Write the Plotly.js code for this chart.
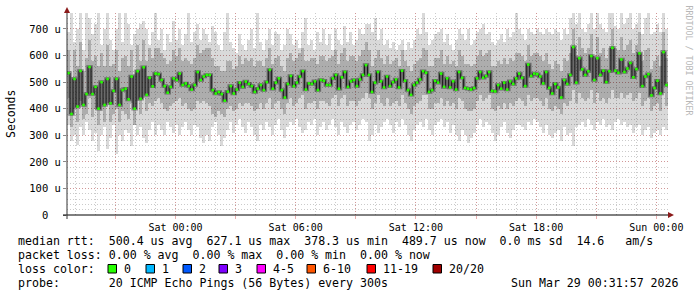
<!DOCTYPE html>
<html><head><meta charset="utf-8">
<script src="https://cdn.plot.ly/plotly-3.0.1.min.js"></script>
<style>html,body{margin:0;padding:0;background:#fff;}#chart{width:697px;height:297px;}</style>
</head><body><div id="chart"></div>
<script>
// ---- data ----
const startUTC = Date.UTC(2026, 2, 27, 18, 35, 0);   // first column start
const stepMinutes = 9;                                  // width of one column

const median = [
534,380,512,408,542,414,455,557,455,482,400,500,414,512,420,467,512,414,470,475,435,521,400,541,437,556,452,516,484,532,530,508,485,460,482,514,508,532,489,495,485,472,489,538,508,521,527,527,470,457,
463,455,430,464,485,457,472,498,482,502,493,485,463,475,489,470,500,546,475,498,514,470,442,493,523,485,498,521,541,472,495,493,503,470,508,505,489,489,514,527,475,518,538,482,503,508,485,510,527,564,
527,463,498,538,503,480,521,485,500,510,480,543,505,470,452,489,498,510,541,535,463,470,505,498,532,482,514,480,503,472,538,516,478,475,472,478,514,538,516,523,538,467,465,489,475,498,472,503,493,514,
532,516,485,566,523,532,530,521,495,538,478,457,493,480,442,508,493,527,632,498,590,548,527,541,598,508,590,527,543,500,541,629,543,535,585,538,551,572,518,549,608,485,521,530,450,478,505,457,613,489];

const smokeHigh = [
690,770,650,700,760,620,770,740,680,720,770,640,700,770,660,620,700,770,650,770,720,640,680,700,720,730,700,640,690,770,660,700,620,680,650,730,660,700,640,680,770,650,690,720,660,700,680,650,710,690,
640,620,690,760,650,630,610,680,640,620,660,700,630,770,650,620,660,700,640,690,680,620,640,700,680,640,660,630,690,740,640,660,620,690,650,700,640,680,620,700,660,640,710,650,690,640,660,700,680,720,
720,690,740,660,700,640,660,630,650,620,640,660,620,650,630,660,700,680,770,690,640,660,680,690,700,650,680,640,620,660,700,680,660,700,640,660,690,700,720,680,690,650,640,660,680,650,700,670,690,770,
700,680,660,700,690,680,700,690,680,700,690,680,700,690,660,700,680,740,770,720,760,700,690,720,770,700,760,720,700,690,770,770,710,700,760,720,740,760,700,720,770,680,740,760,680,690,720,690,770,700];

const smokeLow = [
340,280,300,265,330,300,350,320,280,310,240,300,330,250,290,340,230,300,280,320,310,260,340,300,330,290,270,320,350,300,340,320,300,350,330,310,340,300,330,350,320,300,340,330,290,270,300,280,330,350,
300,260,290,320,350,310,340,360,330,310,350,330,300,280,340,320,350,330,300,340,360,320,290,330,350,340,360,330,310,320,350,340,360,300,330,350,320,340,360,330,300,350,330,310,340,350,320,340,360,350,
280,300,340,310,330,350,360,340,310,350,330,360,340,300,280,320,340,350,330,360,320,300,340,350,360,330,350,310,340,300,280,320,300,270,290,310,340,360,330,350,340,310,280,300,330,350,310,290,320,340,
340,330,320,350,340,360,350,330,310,340,300,290,310,320,280,330,300,310,260,330,340,350,330,360,340,320,350,340,360,330,340,320,350,360,340,350,330,340,310,330,340,300,320,330,290,310,320,300,330,320];

const smokeQ1 = [
440,330,400,350,430,360,380,440,370,400,340,390,350,420,350,380,400,350,390,380,360,420,340,430,380,440,390,420,410,430,440,420,400,390,410,420,430,440,410,420,400,390,400,430,420,430,420,410,380,370,
390,380,370,400,410,390,400,420,410,420,420,410,390,400,420,400,420,440,400,420,430,400,380,420,440,410,420,440,450,400,420,420,430,400,430,430,420,410,440,450,410,440,450,410,430,430,410,430,440,460,
440,400,420,450,420,410,440,410,420,430,410,450,420,400,380,410,420,430,450,450,400,400,420,420,440,410,430,410,420,400,440,430,400,390,390,400,430,450,430,440,450,400,390,410,400,420,400,420,410,430,
440,430,410,450,430,440,440,430,410,440,400,390,410,400,380,420,410,430,470,420,460,440,430,440,470,420,460,430,440,420,440,470,440,440,460,440,450,460,430,440,460,410,430,440,390,410,420,390,460,410];

const smokeQ3 = [
620,520,620,560,650,540,590,660,580,600,560,610,560,640,560,570,620,540,590,600,560,620,530,640,580,660,580,630,590,630,630,610,590,570,580,620,600,630,580,590,580,570,590,640,610,620,630,630,590,560,
560,540,540,580,580,550,560,600,570,590,580,590,560,580,580,560,590,630,570,590,600,560,540,590,610,580,590,610,630,580,580,590,590,570,600,600,580,590,600,620,570,610,630,580,600,600,580,600,620,650,
620,560,590,620,590,570,600,570,580,590,560,620,580,560,540,570,580,590,630,620,560,560,590,590,620,570,600,570,580,560,620,600,570,570,560,570,600,620,600,610,620,560,560,580,570,590,570,590,580,610,
610,600,580,640,600,610,610,600,580,610,570,550,580,570,540,590,580,610,700,600,670,630,610,630,680,600,670,610,630,590,630,700,630,620,670,620,640,660,610,640,690,580,620,630,550,580,600,560,690,590];

const xTickVals = ['2026-03-27 21:00','2026-03-28 00:00','2026-03-28 03:00','2026-03-28 06:00','2026-03-28 09:00',
                   '2026-03-28 12:00','2026-03-28 15:00','2026-03-28 18:00','2026-03-28 21:00','2026-03-29 00:00'];
const xTickText = ['','Sat 00:00','','Sat 06:00','','Sat 12:00','','Sat 18:00','','Sun 00:00'];
const yTickVals = [0,100,200,300,400,500,600,700];
const yTickText = ['0\u00a0\u00a0','100 u','200 u','300 u','400 u','500 u','600 u','700 u'];

const lossLabels = ['0','1','2','3','4-5','6-10','11-19','20/20'];
const lossColors = ['#26ff00','#00b8ff','#0059ff','#7e00ff','#ff00ff','#ff5500','#ff0000','#a00000'];

const legendMedian = 'median rtt:  500.4 us avg  627.1 us max  378.3 us min  489.7 us now  0.0 ms sd  14.6   am/s';
const legendLoss   = 'packet loss: 0.00 % avg  0.00 % max  0.00 % min  0.00 % now';
const legendColor  = 'loss color:';
const legendProbe  = 'probe:       20 ICMP Echo Pings (56 Bytes) every 300s';
const stampText    = 'Sun Mar 29 00:31:57 2026';

// ---- helpers ----
const stepMs = stepMinutes * 60000;
const fmt = ms => new Date(ms).toISOString().replace('T',' ').slice(0,19);
const n = median.length;
const xCenter = median.map((_, i) => fmt(startUTC + (i + 0.5) * stepMs));
const xStart = median.map((_, i) => fmt(startUTC + i * stepMs));
xStart.push(fmt(startUTC + n * stepMs));
const medStep = median.concat([median[n - 1]]);
const xRange = [fmt(startUTC), fmt(startUTC + n * stepMs)];

// pixel -> paper conversion for decorations (plot area 67..668 x 13..215)
const PL = 67, PR = 668, PT = 13, PB = 215;
const px = x => (x - PL) / (PR - PL);
const py = y => (PB - y) / (PB - PT);
const nb = s => s.replace(/ /g, '\u00a0');

const MONO = 'DejaVu Sans Mono, monospace';

const traces = [
  { type: 'bar', x: xCenter, base: smokeLow, y: smokeHigh.map((h, i) => h - smokeLow[i]),
    width: stepMs, marker: { color: 'rgba(0,0,0,0.15)', line: { width: 0 } }, hoverinfo: 'skip' },
  { type: 'bar', x: xCenter, base: smokeQ1, y: smokeQ3.map((h, i) => h - smokeQ1[i]),
    width: stepMs, marker: { color: 'rgba(0,0,0,0.2)', line: { width: 0 } }, hoverinfo: 'skip' },
  { type: 'scatter', mode: 'lines', x: xStart, y: medStep,
    line: { shape: 'hv', color: 'rgba(0,0,0,0.38)', width: 3.5 }, hoverinfo: 'skip' },
  { type: 'scatter', mode: 'lines', x: xStart, y: medStep,
    line: { shape: 'hv', color: '#1a1a1a', width: 1 }, hoverinfo: 'skip' },
  { type: 'scatter', mode: 'markers', x: xCenter, y: median,
    marker: { symbol: 'square', size: 2.6, color: '#26ff00', line: { width: 0 } } }
];

const gridMajor = 'rgba(215,110,110,0.55)';
const gridMinor = 'rgba(130,130,130,0.42)';

const shapes = [
  // axes
  { type: 'line', xref: 'paper', yref: 'paper', x0: px(63), x1: px(670), y0: py(215), y1: py(215),
    line: { color: '#000', width: 1 }, layer: 'above' },
  { type: 'line', xref: 'paper', yref: 'paper', x0: px(67), x1: px(67), y0: py(219), y1: py(11),
    line: { color: '#333', width: 1 }, layer: 'above' },
  { type: 'path', xref: 'paper', yref: 'paper', layer: 'above',
    path: `M ${px(674)},${py(215)} L ${px(668)},${py(212)} L ${px(668)},${py(218)} Z`,
    fillcolor: '#8b1a1a', line: { width: 0 } },
  { type: 'path', xref: 'paper', yref: 'paper', layer: 'above',
    path: `M ${px(67)},${py(7)} L ${px(64)},${py(13)} L ${px(70)},${py(13)} Z`,
    fillcolor: '#8b1a1a', line: { width: 0 } }
];

const boxX = [108, 146, 183, 219, 257, 307, 367, 433];
const annotations = [];
lossColors.forEach((c, i) => {
  shapes.push({ type: 'rect', xref: 'paper', yref: 'paper',
    x0: px(boxX[i]), x1: px(boxX[i] + 8.5), y0: py(264.5), y1: py(273),
    fillcolor: c, line: { color: '#000', width: 1 } });
  annotations.push({ text: lossLabels[i], x: px(boxX[i] + 14), y: py(269) });
});

annotations.push({ text: nb(legendMedian), x: px(16), y: py(241) });
annotations.push({ text: nb(legendLoss), x: px(16), y: py(255) });
annotations.push({ text: nb(legendColor), x: px(16), y: py(269) });
annotations.push({ text: nb(legendProbe), x: px(16), y: py(283) });
annotations.push({ text: nb(stampText), x: px(681), y: py(283), xanchor: 'right' });

annotations.forEach(a => {
  Object.assign(a, { xref: 'paper', yref: 'paper', showarrow: false,
    xanchor: a.xanchor || 'left', yanchor: 'middle',
    font: { family: MONO, size: 11.6, color: '#000' } });
});

annotations.push({ text: 'Seconds', xref: 'paper', yref: 'paper', x: px(11), y: py(114),
  showarrow: false, textangle: -90, xanchor: 'center', yanchor: 'middle',
  font: { family: MONO, size: 11.5, color: '#000' } });
annotations.push({ text: nb('RRDTOOL / TOBI OETIKER'), xref: 'paper', yref: 'paper', x: px(688.5), y: py(60),
  showarrow: false, textangle: 90, xanchor: 'center', yanchor: 'middle',
  font: { family: MONO, size: 8.3, color: '#b8b8b8' } });

const layout = {
  width: 697, height: 297,
  margin: { l: PL, r: 697 - PR, t: PT, b: 297 - PB, pad: 0 },
  paper_bgcolor: '#ffffff', plot_bgcolor: '#ffffff',
  showlegend: false, barmode: 'overlay', bargap: 0,
  xaxis: {
    type: 'date', range: xRange, tickmode: 'array', tickvals: xTickVals, ticktext: xTickText,
    showgrid: true, gridcolor: gridMajor, griddash: '1px,2px', gridwidth: 1,
    ticks: 'outside', ticklen: 3, tickcolor: gridMajor, tickwidth: 1,
    tickfont: { family: MONO, size: 10, color: '#000' },
    showline: false, zeroline: false, fixedrange: true,
    minor: { dtick: 3600000, tick0: '2026-03-28 00:00', showgrid: true, gridcolor: gridMinor,
             griddash: '1px,2px', gridwidth: 1, ticks: '' }
  },
  yaxis: {
    range: [0, 760], tickmode: 'array', tickvals: yTickVals, ticktext: yTickText,
    showgrid: true, gridcolor: gridMajor, griddash: '1px,2px', gridwidth: 1,
    ticks: 'outside', ticklen: 3, tickcolor: '#888', tickwidth: 1,
    tickfont: { family: MONO, size: 10.5, color: '#000' },
    showline: false, zeroline: false, fixedrange: true,
    minor: { dtick: 20, tick0: 0, showgrid: true, gridcolor: gridMinor,
             griddash: '1px,2px', gridwidth: 1, ticks: '' }
  },
  shapes: shapes,
  annotations: annotations
};

Plotly.newPlot('chart', traces, layout, { displayModeBar: false, staticPlot: true });
</script>
</body></html>
